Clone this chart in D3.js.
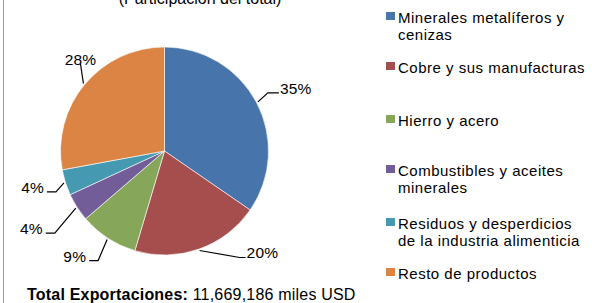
<!DOCTYPE html>
<html>
<head>
<meta charset="utf-8">
<script src="https://cdn.jsdelivr.net/npm/d3@7"></script>
<style>
  body { margin: 0; background: #fff; }
  svg { display: block; font-family: "Liberation Sans", Arial, sans-serif; }
</style>
</head>
<body>
<div id="chart"></div>
<script>
// Data (share of total, %)
const categories = [
    "Minerales metalíferos y cenizas",
    "Cobre y sus manufacturas",
    "Hierro y acero",
    "Combustibles y aceites minerales",
    "Residuos y desperdicios de la industria alimenticia",
    "Resto de productos"
];
const values = [34.6, 20.0, 9.1, 4.4, 4.0, 27.9];
const valueLabels = ["35%", "20%", "9%", "4%", "4%", "28%"];
// legend text split into lines like the original
const legendLines = [
    ["Minerales metalíferos y", "cenizas"],
    ["Cobre y sus manufacturas"],
    ["Hierro y acero"],
    ["Combustibles y aceites", "minerales"],
    ["Residuos y desperdicios", "de la industria alimenticia"],
    ["Resto de productos"]
];
const colors = ["#4774aa", "#a64d4e", "#86a75a", "#725d98", "#4599b0", "#db8444"];

const titleText = "(Participación del total)";
const totalLabel = "Total Exportaciones:";
const totalValue = " 11,669,186 miles USD";

// leader line layout: elbow offset from slice edge, then horizontal arm
const leaders = [
    { dx: 10, dy: -9, arm: 11, anchor: "start" },
    { dx: 40, dy: 7, arm: 6, anchor: "start" },
    { dx: -9, dy: 21, arm: -9, anchor: "end" },
    { dx: -21, dy: 25, arm: -9, anchor: "end" },
    { dx: -8, dy: 9, arm: -9, anchor: "end" },
    { dx: -3, dy: -20, arm: 0, anchor: "middle" }
];

const width = 592, height = 303;
const cx = 164.5, cy = 151, radius = 104;

const svg = d3.select("#chart").append("svg")
    .attr("width", width)
    .attr("height", height);

// chart border on the left
svg.append("line")
    .attr("x1", 3.5).attr("x2", 3.5)
    .attr("y1", 0).attr("y2", height)
    .attr("stroke", "#9a9a9a")
    .attr("stroke-width", 1);

// title, mostly cut off at the top (as in the original)
svg.append("text")
    .attr("x", 200)
    .attr("y", 4)
    .attr("text-anchor", "middle")
    .style("font-size", "16px")
    .attr("fill", "#000")
    .text(titleText);

const pie = d3.pie().sort(null).value(d => d);
const arcs = pie(values);
const arc = d3.arc().innerRadius(0).outerRadius(radius);

const g = svg.append("g").attr("transform", `translate(${cx},${cy})`);

g.selectAll("path.slice")
    .data(arcs)
    .enter()
    .append("path")
    .attr("class", "slice")
    .attr("d", arc)
    .attr("fill", (d, i) => colors[i])
    .attr("stroke", "#fff")
    .attr("stroke-width", 0.6);

// leader lines and labels
arcs.forEach(function(d, i) {
    const mid = (d.startAngle + d.endAngle) / 2;
    const ex = Math.sin(mid) * (radius + 1.5);
    const ey = -Math.cos(mid) * (radius + 1.5);
    const L = leaders[i];
    const bx = ex + L.dx, by = ey + L.dy;
    const endX = bx + L.arm;
    g.append("path")
        .attr("d", `M${ex},${ey}L${bx},${by}L${endX},${by}`)
        .attr("fill", "none")
        .attr("stroke", "#000")
        .attr("stroke-width", 1.2);
    let tx = endX, ty = by + 1;
    if (L.anchor === "start") tx += 1;
    if (L.anchor === "end") tx -= 3;
    if (L.anchor === "middle") ty = by + 1;
    g.append("text")
        .attr("x", tx)
        .attr("y", ty)
        .attr("text-anchor", L.anchor)
        .style("font-size", "15.5px")
        .style("letter-spacing", "0.2px")
        .text(valueLabels[i]);
});

// legend
const legendTops = [12, 62, 115, 165, 218, 268];
const legend = svg.append("g");
legendLines.forEach(function(lines, i) {
    const top = legendTops[i];
    legend.append("rect")
        .attr("x", 386)
        .attr("y", top)
        .attr("width", 9)
        .attr("height", 8)
        .attr("fill", colors[i]);
    lines.forEach(function(t, j) {
        legend.append("text")
            .attr("x", 398)
            .attr("y", top + 11 + j * 17)
            .style("font-size", "15px")
            .style("letter-spacing", "0.5px")
            .text(t);
    });
});

// total exports note
const total = svg.append("text")
    .attr("x", 27)
    .attr("y", 300)
    .style("font-size", "16px")
    .style("letter-spacing", "0.2px");
total.append("tspan").style("font-weight", "bold").text(totalLabel);
total.append("tspan").text(totalValue);
</script>
</body>
</html>
